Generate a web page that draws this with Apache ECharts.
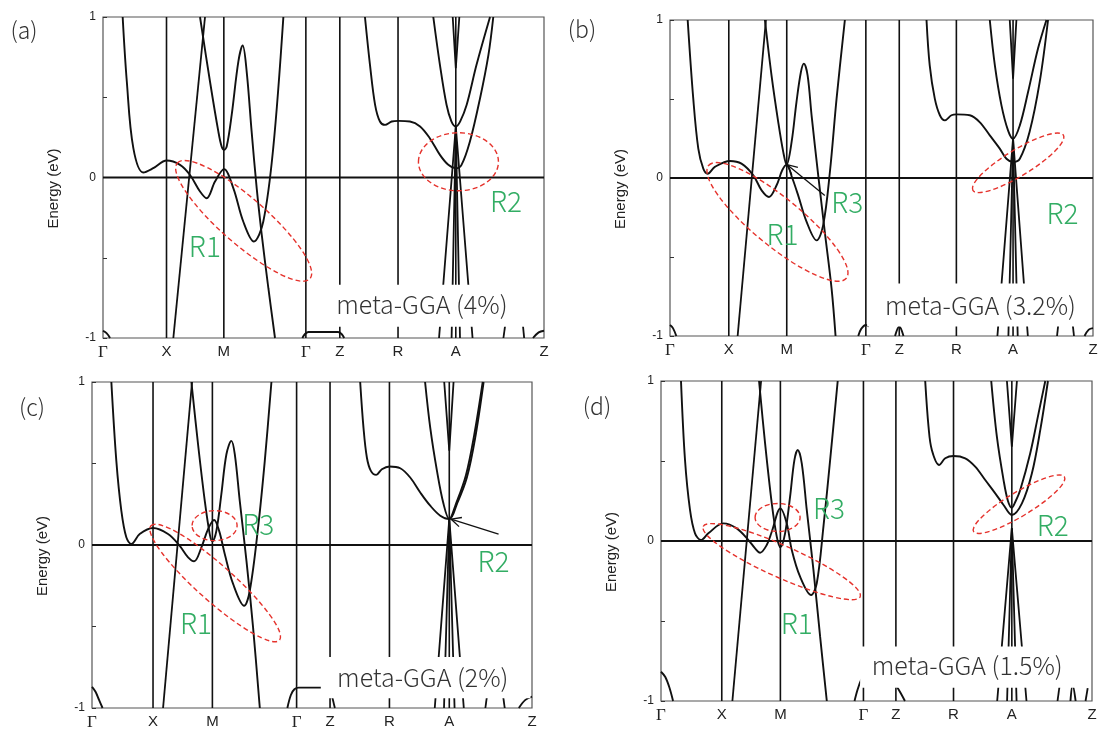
<!DOCTYPE html>
<html>
<head>
<meta charset="utf-8">
<script src="https://cdn.jsdelivr.net/npm/echarts@6/dist/echarts.min.js"></script>
<style>
html, body { margin: 0; padding: 0; background: #fff; }
#main { width: 1103px; height: 731px; }
</style>
</head>
<body>
<div id="main"></div>
<script>
// k-path labels, shared by all four panels
var kLabels = ['Γ', 'X', 'M', 'Γ', 'Z', 'R', 'A', 'Z'];

// tick positions (fraction of the path) per panel
var ticksA = [0, 0.144, 0.274, 0.460, 0.537, 0.669, 0.800, 1];
var ticksB = [0, 0.139, 0.276, 0.463, 0.542, 0.677, 0.811, 1];
var ticksC = [0, 0.1387, 0.2736, 0.465, 0.541, 0.676, 0.812, 1];
var ticksD = [0, 0.141, 0.277, 0.4697, 0.545, 0.6787, 0.814, 1];

// bands: [k, E(eV)]
var curvedA = [
    [[0.0446,1.0],[0.054,0.598],[0.0688,0.183],[0.0914,0.031],[0.114,0.058],[0.1444,0.106],[0.1746,0.079],[0.197,0.017],[0.220,-0.087],[0.235,-0.129],[0.254,-0.025],[0.2744,0.052],[0.2955,-0.066],[0.318,-0.274],[0.342,-0.399],[0.3635,-0.274],[0.386,0.183],[0.409,1.0]],
    [[0.220,1.0],[0.2426,0.598],[0.2615,0.287],[0.269,0.193],[0.2744,0.172],[0.2805,0.193],[0.2918,0.39],[0.307,0.723],[0.3167,0.822],[0.3258,0.66],[0.337,0.287],[0.3485,-0.066],[0.36,-0.357],[0.375,-0.69],[0.390,-1.0]],
    [[0,-0.955],[0.008,-0.97],[0.016,-1]],
    [[0.452,-1],[0.458,-0.975],[0.466,-0.963],[0.50,-0.963],[0.533,-0.963],[0.541,-0.975],[0.547,-1]],
    [[0.594,1.0],[0.6054,0.702],[0.617,0.453],[0.628,0.349],[0.6395,0.328],[0.6546,0.349],[0.6696,0.353],[0.696,0.349],[0.719,0.318],[0.741,0.245],[0.764,0.141],[0.783,0.079],[0.80,0.058],[0.813,0.079],[0.832,0.224],[0.855,0.494],[0.874,0.764],[0.885,1.0]],
    [[0.749,1.0],[0.764,0.702],[0.779,0.453],[0.79,0.35],[0.80,0.318],[0.81,0.35],[0.8247,0.453],[0.847,0.702],[0.8776,1.0]],
    [[0.975,-1],[0.988,-0.965],[1,-0.955]]
];
var straightA = [
    [[0.1595,-1],[0.2313,1]],
    [[0.793,1],[0.80,0.681],[0.808,1]],
    [[0.762,-1],[0.80,0.318],[0.838,-1]],
    [[0.7905,-1],[0.80,0.318],[0.8095,-1]],
    [[0.908,-1],[0.918,-0.8]],
    [[0.955,-1],[0.948,-0.8]]
];

var curvedB = [
    [[0.0418,1.0],[0.055,0.502],[0.0669,0.186],[0.0787,0.059],[0.089,0.027],[0.106,0.07],[0.1418,0.108],[0.169,0.091],[0.197,0.017],[0.2166,-0.078],[0.234,-0.12],[0.252,-0.046],[0.2653,0.049],[0.2757,0.084],[0.289,0.0],[0.303,-0.11],[0.323,-0.278],[0.3466,-0.395],[0.362,-0.30],[0.378,0.038],[0.3938,0.502],[0.4134,1.0]],
    [[0.2244,1.0],[0.240,0.65],[0.2559,0.354],[0.2677,0.165],[0.2757,0.084],[0.2875,0.228],[0.299,0.481],[0.3095,0.671],[0.3166,0.724],[0.3253,0.65],[0.3347,0.397],[0.3504,0.017],[0.366,-0.342],[0.382,-0.70],[0.3914,-1.0]],
    [[0,-0.93],[0.007,-0.95],[0.015,-1]],
    [[0.445,-1],[0.452,-0.955],[0.463,-0.93],[0.47,-0.94]],
    [[0.532,-1],[0.542,-0.94],[0.552,-1]],
    [[0.6064,1.0],[0.614,0.713],[0.626,0.502],[0.638,0.397],[0.6497,0.365],[0.6654,0.397],[0.677,0.403],[0.7087,0.397],[0.732,0.354],[0.756,0.27],[0.7796,0.186],[0.7954,0.122],[0.811,0.101],[0.827,0.122],[0.850,0.291],[0.874,0.608],[0.8937,1.0]],
    [[0.756,1.0],[0.768,0.713],[0.7836,0.46],[0.7993,0.30],[0.811,0.249],[0.827,0.333],[0.8465,0.544],[0.870,0.819],[0.8899,1.0]],
    [[0.98,-1],[0.99,-0.96],[1,-0.95]]
];
var straightB = [
    [[0.1599,-1],[0.2268,1]],
    [[0.8032,1],[0.811,0.629],[0.8189,1]],
    [[0.774,-1],[0.811,0.249],[0.846,-1]],
    [[0.800,-1],[0.811,0.249],[0.822,-1]],
    [[0.915,-1],[0.921,-0.85]],
    [[0.955,-1],[0.949,-0.85]]
];

var curvedC = [
    [[0.044,1.0],[0.0553,0.516],[0.0667,0.21],[0.078,0.047],[0.0895,0.006],[0.1084,0.067],[0.1387,0.104],[0.1728,0.067],[0.199,-0.004],[0.2184,-0.076],[0.232,-0.10],[0.2487,-0.014],[0.2638,0.098],[0.2775,0.153],[0.2888,0.088],[0.3017,-0.055],[0.3207,-0.239],[0.3457,-0.373],[0.3586,-0.28],[0.3775,0.108],[0.3927,0.516],[0.4078,1.0]],
    [[0.2259,1.0],[0.241,0.618],[0.2563,0.271],[0.2676,0.067],[0.2736,0.022],[0.2828,0.088],[0.294,0.312],[0.3055,0.557],[0.3168,0.639],[0.3245,0.557],[0.3358,0.271],[0.351,-0.096],[0.366,-0.504],[0.3814,-1.0]],
    [[0,-0.87],[0.008,-0.9],[0.016,-0.95],[0.024,-1]],
    [[0.444,-1],[0.452,-0.92],[0.46,-0.885],[0.47,-0.875],[0.50,-0.875],[0.53,-0.875]],
    [[0.6095,1.0],[0.617,0.72],[0.6247,0.537],[0.6338,0.455],[0.6459,0.43],[0.6588,0.465],[0.6762,0.482],[0.7005,0.471],[0.7232,0.414],[0.746,0.322],[0.7687,0.241],[0.7915,0.18],[0.812,0.159],[0.8293,0.251],[0.852,0.414],[0.871,0.659],[0.890,1.0]],
    [[0.757,1.0],[0.7687,0.72],[0.784,0.455],[0.799,0.251],[0.812,0.159],[0.827,0.251],[0.85,0.43],[0.869,0.68],[0.888,1.0]],
    [[0.97,-1],[0.985,-0.95],[1,-0.93]]
];
var straightC = [
    [[0.1615,-1],[0.2274,1]],
    [[0.8005,1],[0.812,0.578],[0.8217,1]],
    [[0.779,-1],[0.812,0.159],[0.845,-1]],
    [[0.80,-1],[0.812,0.159],[0.824,-1]],
    [[0.894,-1],[0.9,-0.88]],
    [[0.938,-1],[0.932,-0.88]],
    [[0.543,-0.9],[0.552,-1]]
];

var curvedD = [
    [[0.0464,1.0],[0.0557,0.506],[0.0673,0.194],[0.0789,0.048],[0.0929,0.006],[0.1099,0.048],[0.1447,0.11],[0.1757,0.079],[0.2028,0.006],[0.2183,-0.046],[0.2299,-0.073],[0.2453,-0.025],[0.257,0.058],[0.277,0.204],[0.2918,0.11],[0.3034,-0.056],[0.3227,-0.223],[0.3483,-0.3375],[0.3614,-0.265],[0.3769,0.09],[0.3924,0.506],[0.410,1.0]],
    [[0.2275,1.0],[0.2415,0.61],[0.257,0.235],[0.2686,0.027],[0.277,-0.04],[0.2879,0.048],[0.2995,0.277],[0.3095,0.506],[0.3173,0.569],[0.3266,0.485],[0.3382,0.194],[0.3537,-0.181],[0.3692,-0.598],[0.3847,-1.0]],
    [[0,-0.817],[0.01,-0.85],[0.02,-0.92],[0.028,-1]],
    [[0.449,-1],[0.456,-0.93],[0.464,-0.87],[0.47,-0.85]],
    [[0.545,-0.9],[0.556,-0.95],[0.566,-1]],
    [[0.613,1.0],[0.6207,0.715],[0.6284,0.569],[0.6455,0.475],[0.6594,0.517],[0.6787,0.531],[0.7058,0.517],[0.729,0.465],[0.7523,0.381],[0.7755,0.298],[0.7948,0.225],[0.814,0.1625],[0.8374,0.235],[0.8606,0.423],[0.88,0.694],[0.8978,1.0]],
    [[0.7662,1.0],[0.7793,0.652],[0.7948,0.381],[0.805,0.25],[0.814,0.208],[0.823,0.25],[0.8335,0.319],[0.8567,0.548],[0.876,0.798],[0.8916,1.0]],
    [[0.95,-1],[0.955,-0.9],[0.962,-1]]
];
var straightD = [
    [[0.1656,-1],[0.2322,1]],
    [[0.8026,1],[0.814,0.59],[0.8258,1]],
    [[0.780,-1],[0.814,0.08],[0.848,-1]],
    [[0.803,-1],[0.814,0.08],[0.825,-1]],
    [[0.92,-1],[0.926,-0.88]],
    [[0.985,-1],[0.99,-0.92]]
];

var notes = ['meta-GGA (4%)', 'meta-GGA (3.2%)', 'meta-GGA (2%)', 'meta-GGA (1.5%)'];

// layout of the four panels and their annotations
var panels = [
    {tag: '(a)', tagAt: [24, 30], grid: {left: 103, top: 17, width: 441, height: 321}, ticks: ticksA, curved: curvedA, straight: straightA,
     box: [0.467, -0.669, 1, -0.93], noteAt: [0.723, -0.793],
     ellipses: [[0.319, -0.27, 88, 23, -41.1], [0.806, 0.098, 40, 29, 0]],
     regions: [['R1', 0.231, -0.426], ['R2', 0.914, -0.15]], arrows: []},
    {tag: '(b)', tagAt: [582, 29], grid: {left: 670, top: 20, width: 423, height: 316}, ticks: ticksB, curved: curvedB, straight: straightB,
     box: [0.466, -0.668, 1, -0.94], noteAt: [0.734, -0.806],
     ellipses: [[0.254, -0.278, 89, 24, -39.3], [0.823, 0.096, 53, 13, 31.4]],
     regions: [['R1', 0.266, -0.356], ['R3', 0.419, -0.154], ['R2', 0.928, -0.223]],
     arrows: [[0.366, -0.11, 0.277, 0.084]]},
    {tag: '(c)', tagAt: [32, 407], grid: {left: 92, top: 382, width: 440, height: 327}, ticks: ticksC, curved: curvedC, straight: straightC,
     box: [0.52, -0.687, 1, -0.94], noteAt: [0.7517, -0.815],
     ellipses: [[0.280, -0.233, 86, 18, -41.7], [0.2786, 0.119, 22.5, 15, 0]],
     regions: [['R1', 0.2365, -0.479], ['R3', 0.378, 0.124], ['R2', 0.9127, -0.1]],
     arrows: [[0.924, 0.067, 0.816, 0.159]]},
    {tag: '(d)', tagAt: [597, 406], grid: {left: 661, top: 381, width: 431, height: 320}, ticks: ticksD, curved: curvedD, straight: straightD,
     box: [0.462, -0.66, 1, -0.917], noteAt: [0.7105, -0.779],
     ellipses: [[0.280, -0.129, 86, 16, -24.1], [0.2705, 0.147, 22.5, 14, 0], [0.8307, 0.23, 53, 12, 31.1]],
     regions: [['R1', 0.315, -0.515], ['R3', 0.39, 0.204], ['R2', 0.909, 0.096]], arrows: []}
];

var BAND = '#111';
var GREEN = '#33ad64';
var RED = '#e5322c';

function lineSeries(i, data, smooth, width) {
    return {
        type: 'line', xAxisIndex: i, yAxisIndex: i, data: data, smooth: smooth,
        symbol: 'none', silent: true, animation: false, z: 2,
        lineStyle: {color: BAND, width: width}
    };
}

var grids = [], xAxes = [], yAxes = [], series = [];
panels.forEach(function (p, i) {
    grids.push(Object.assign({show: true, borderColor: '#555', borderWidth: 1.2}, p.grid));
    xAxes.push({
        type: 'value', gridIndex: i, min: 0, max: 1,
        axisLine: {show: false}, axisTick: {show: false}, splitLine: {show: false},
        axisLabel: {
            customValues: p.ticks, showMinLabel: true, showMaxLabel: true, hideOverlap: false,
            margin: 6, color: '#222', fontSize: 15, fontFamily: 'Liberation Sans',
            formatter: function (v) {
                for (var j = 0; j < p.ticks.length; j++) {
                    if (Math.abs(p.ticks[j] - v) < 1e-6) {
                        return kLabels[j] === 'Γ' ? '{g|Γ}' : kLabels[j];
                    }
                }
                return '';
            },
            rich: {g: {fontFamily: 'Liberation Serif', fontSize: 17, color: '#222'}}
        }
    });
    yAxes.push({
        type: 'value', gridIndex: i, min: -1, max: 1, interval: 0.5,
        axisLine: {show: false}, splitLine: {show: false},
        axisTick: {show: true, inside: true, length: 4, lineStyle: {color: '#333'}},
        axisLabel: {
            margin: 7, color: '#222', fontSize: 12, fontFamily: 'Liberation Sans',
            formatter: function (v) { return Math.abs(v % 1) < 1e-9 ? String(v) : ''; }
        },
        name: 'Energy (eV)', nameLocation: 'middle', nameGap: 42,
        nameTextStyle: {fontSize: 15, color: '#222', fontFamily: 'Liberation Sans', padding: [0, 22, 0, 0]}
    });
    p.curved.forEach(function (b) { series.push(lineSeries(i, b, 0.35, 1.9)); });
    p.straight.forEach(function (b) { series.push(lineSeries(i, b, false, 1.8)); });
    // high-symmetry verticals and the Fermi level
    p.ticks.slice(1, -1).forEach(function (t) {
        series.push(lineSeries(i, [[t, -1], [t, 1]], false, 1.6));
    });
    series.push(lineSeries(i, [[0, 0], [1, 0]], false, 1.9));
});

var chart = echarts.init(document.getElementById('main'));
chart.setOption({
    backgroundColor: '#fff',
    animation: false,
    grid: grids,
    xAxis: xAxes,
    yAxis: yAxes,
    series: series
});

// annotations: white boxes, notes, dashed ellipses, region labels, arrows
var graphics = [];
panels.forEach(function (p, i) {
    var toPx = function (k, e) { return chart.convertToPixel({gridIndex: i}, [k, e]); };
    graphics.push({
        type: 'text', x: p.tagAt[0], y: p.tagAt[1], z: 12,
        style: {text: p.tag, fill: '#333', fontSize: 23, fontWeight: 300, fontFamily: 'Noto Sans CJK JP', align: 'center', verticalAlign: 'middle'}
    });
    var a = toPx(p.box[0], p.box[1]), b = toPx(p.box[2], p.box[3]);
    graphics.push({
        type: 'rect', z: 10, silent: true,
        shape: {x: a[0], y: a[1], width: b[0] - a[0] - 1.5, height: b[1] - a[1]},
        style: {fill: '#fff'}
    });
    var n = toPx(p.noteAt[0], p.noteAt[1]);
    graphics.push({
        type: 'text', x: n[0], y: n[1], z: 12,
        style: {text: notes[i], fill: '#333', fontSize: 25, fontWeight: 300, fontFamily: 'Noto Sans CJK JP', align: 'center', verticalAlign: 'middle'}
    });
    p.ellipses.forEach(function (el) {
        var c = toPx(el[0], el[1]);
        graphics.push({
            type: 'ellipse', x: c[0], y: c[1], rotation: el[4] * Math.PI / 180, z: 11, silent: true,
            shape: {cx: 0, cy: 0, rx: el[2], ry: el[3]},
            style: {fill: 'none', stroke: RED, lineWidth: 1.4, lineDash: [5, 3]}
        });
    });
    p.regions.forEach(function (r) {
        var c = toPx(r[1], r[2]);
        graphics.push({
            type: 'text', x: c[0], y: c[1], z: 12,
            style: {text: r[0], fill: GREEN, fontSize: 28, fontWeight: 300, fontFamily: 'Noto Sans CJK JP', align: 'center', verticalAlign: 'middle'}
        });
    });
    p.arrows.forEach(function (ar) {
        var s = toPx(ar[0], ar[1]), t = toPx(ar[2], ar[3]);
        var dx = s[0] - t[0], dy = s[1] - t[1], len = Math.sqrt(dx * dx + dy * dy);
        dx /= len; dy /= len;
        var head = function (ang) {
            var c = Math.cos(ang), sn = Math.sin(ang);
            return [t[0] + 11 * (dx * c - dy * sn), t[1] + 11 * (dx * sn + dy * c)];
        };
        graphics.push({type: 'line', z: 12, shape: {x1: s[0], y1: s[1], x2: t[0], y2: t[1]}, style: {stroke: BAND, lineWidth: 1.3}});
        graphics.push({type: 'polyline', z: 12, shape: {points: [head(0.45), t, head(-0.45)]}, style: {stroke: BAND, lineWidth: 1.3, fill: 'none'}});
    });
});
chart.setOption({graphic: graphics});
</script>
</body>
</html>
